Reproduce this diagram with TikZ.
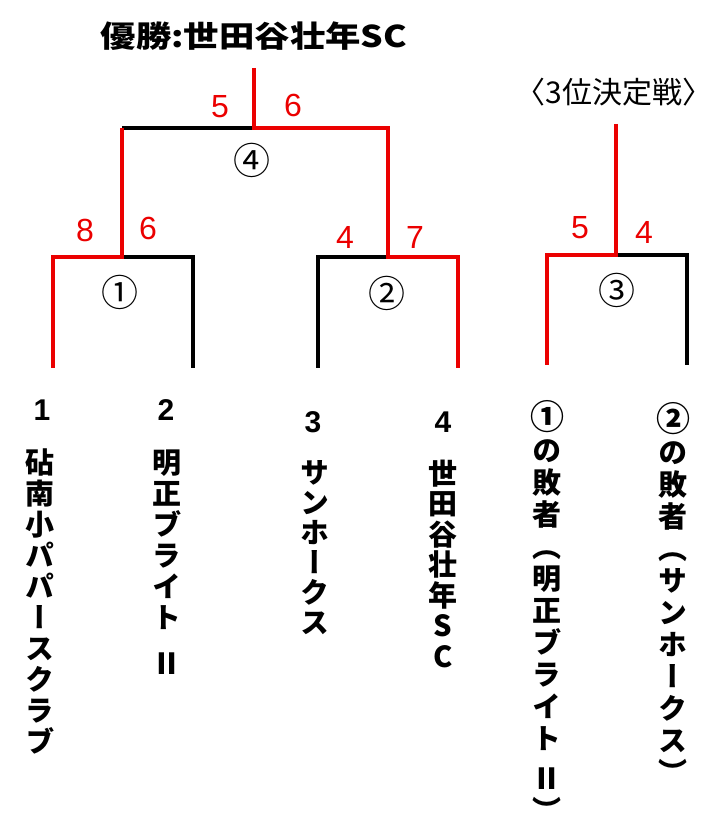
\documentclass[tikz,border=0pt]{standalone}
\usepackage{fontspec}
\setmainfont{Liberation Sans}
\newfontfamily\jpfont{Noto Sans CJK JP}
\newfontfamily\jpvert[RawFeature=+vert]{Noto Sans CJK JP}
\newfontfamily\jpwide[FakeStretch=1.18]{Noto Sans CJK JP}
\definecolor{winred}{RGB}{235,0,0}

\begin{document}
\begin{tikzpicture}
[x=1pt,y=-1pt,
 lose/.style={line width=3.2pt,black},
 win/.style={line width=3.2pt,winred},
 score/.style={text=winred,inner sep=0,font=\fontsize{32}{32}\selectfont},
 game/.style={inner sep=0,font=\jpfont\fontsize{37}{37}\selectfont},
 seed/.style={inner sep=0,font=\bfseries\fontsize{30}{30}\selectfont},
 vchar/.style={inner sep=0,text height=25.5pt,text depth=3.5pt,
   font=\jpvert\bfseries\fontsize{29}{29}\selectfont},
 vgame/.style={vchar,font=\jpfont\bfseries\fontsize{34}{34}\selectfont},
]
\useasboundingbox (0,0) rectangle (727,824);

% headings
\node[inner sep=0,font=\jpwide\bfseries\fontsize{30}{30}\selectfont] (champ) at (254,36) {優勝:世田谷壮年SC};
\node[inner sep=0,font=\jpfont\fontsize{30}{30}\selectfont] (third) at (614,92) {〈3位決定戦〉};

% bracket points
\coordinate (top) at (254,68);
\coordinate (f)   at (254,128);
\coordinate (fl)  at (122,128);
\coordinate (fr)  at (388,128);
\coordinate (m1)  at (122,257);
\coordinate (m1l) at (53,257);
\coordinate (m1r) at (193,257);
\coordinate (m2)  at (388,257);
\coordinate (m2l) at (318,257);
\coordinate (m2r) at (458,257);
\coordinate (t1)  at (53,368);
\coordinate (t2)  at (193,368);
\coordinate (t3)  at (318,368);
\coordinate (t4)  at (458,368);
\coordinate (gtop) at (616,124);
\coordinate (g)   at (616,255);
\coordinate (gl)  at (547,255);
\coordinate (gr)  at (687,255);
\coordinate (t5)  at (547,365);
\coordinate (t6)  at (687,365);

\draw[lose] (f) -- (fl);
\draw[lose] (m1) -- (m1r) -- (t2);
\draw[lose] (m2) -- (m2l) -- (t3);
\draw[lose] (g) -- (gr) -- (t6);
\draw[win] (top) -- (f) -- (fr) -- (m2) -- (m2r) -- (t4);
\draw[win] (fl) -- (m1) -- (m1l) -- (t1);
\draw[win] (gtop) -- (g) -- (gl) -- (t5);

% scores
\node[score] (s4a) at (220,107) {5};
\node[score] (s4b) at (293,105) {6};
\node[score] (s1a) at (85,230)  {8};
\node[score] (s1b) at (148,228) {6};
\node[score] (s2a) at (345,237) {4};
\node[score] (s2b) at (415,237) {7};
\node[score] (s3a) at (580,228) {5};
\node[score] (s3b) at (644,232) {4};

% game numbers
\node[game] (g4) at (252,160) {④};
\node[game] (g1) at (120,292) {①};
\node[game] (g2) at (387,293) {②};
\node[game] (g3) at (617,290) {③};

% seeds
\node[seed] (n1) at (42,410)  {1};
\node[seed] (n2) at (166,410) {2};
\node[seed] (n3) at (313,422) {3};
\node[seed] (n4) at (443,422) {4};

% team names, one character per node
\foreach \c [count=\i from 0] in {砧,南,小,パ,パ,ー,ス,ク,ラ,ブ}
  {\node[vchar] (a\i) at (40,462+31*\i) {\c};}
\foreach \c [count=\i from 0] in {明,正,ブ,ラ,イ,ト}
  {\node[vchar] (b\i) at (167,462+31*\i) {\c};}
\node[vchar] (b6) at (167,663) {Ⅱ};
\foreach \c [count=\i from 0] in {サ,ン,ホ,ー,ク,ス}
  {\node[vchar] (c\i) at (315,472+30*\i) {\c};}
\foreach \c [count=\i from 0] in {世,田,谷,壮,年,S,C}
  {\node[vchar] (d\i) at (443,473+30.5*\i) {\c};}
\node[vgame] (e0) at (547,418) {①};
\foreach \c [count=\i from 1] in {の,敗,者,（,明,正,ブ,ラ,イ,ト}
  {\node[vchar] (e\i) at (547,418+32*\i) {\c};}
\node[vchar] (e11) at (547,778) {Ⅱ};
\node[vchar] (e12) at (547,810) {）};
\node[vgame] (f0) at (673,420) {②};
\foreach \c [count=\i from 1] in {の,敗,者,（,サ,ン,ホ,ー,ク,ス,）}
  {\node[vchar] (f\i) at (673,420+32*\i) {\c};}
\end{tikzpicture}
\end{document}
